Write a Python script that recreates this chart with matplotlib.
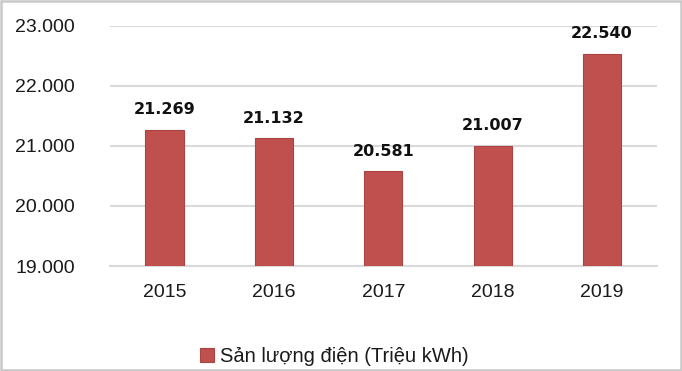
import matplotlib.pyplot as plt
from matplotlib.patches import Rectangle

years = ['2015', '2016', '2017', '2018', '2019']
values = [21269, 21132, 20581, 21007, 22540]
value_labels = ['21.269', '21.132', '20.581', '21.007', '22.540']
y_ticks = [19000, 20000, 21000, 22000, 23000]
y_tick_labels = ['19.000', '20.000', '21.000', '22.000', '23.000']
series_name = 'Sản lượng điện (Triệu kWh)'

BAR_COLOR = '#c0504d'
GRID_COLOR = '#d9d9d9'

plt.rcParams['font.family'] = ['Liberation Sans', 'DejaVu Sans']

fig = plt.figure(figsize=(6.82, 3.71), dpi=100)
ax = fig.add_axes([0.161, 0.283, 0.802, 0.647])

x = range(len(years))
bars = ax.bar(x, values, width=0.35, color=BAR_COLOR, edgecolor='#a94442',
              linewidth=0.8, zorder=3, label=series_name)

for xi, v, lab in zip(x, values, value_labels):
    ax.annotate(lab, (xi, v), xytext=(0, 9), textcoords='offset points',
                ha='center', va='bottom', fontsize=11.5, fontweight='bold',
                family='DejaVu Sans', color='#111111')

ax.set_ylim(19000, 23000)
ax.set_xlim(-0.5, len(years) - 0.5)
ax.set_yticks(y_ticks)
ax.set_yticklabels(y_tick_labels)
ax.set_xticks(list(x))
ax.set_xticklabels(years)
ax.tick_params(axis='y', length=0, pad=25, labelsize=14, labelcolor='#1a1a1a')
ax.tick_params(axis='x', length=0, pad=13, labelsize=14, labelcolor='#1a1a1a')
ax.grid(axis='y', color=GRID_COLOR, linewidth=1.5, zorder=0)
for s in ['top', 'right', 'left']:
    ax.spines[s].set_visible(False)
ax.spines['bottom'].set_color(GRID_COLOR)
ax.spines['bottom'].set_linewidth(1.5)

fig.legend(handles=[bars], labels=[series_name], loc='center',
           bbox_to_anchor=(0.49, 0.038), frameon=False, fontsize=14.5,
           handlelength=0.7, handleheight=0.7, handletextpad=0.3,
           labelcolor='#1a1a1a')

fig.patches.append(Rectangle((0.002, 0.003), 0.996, 0.994, transform=fig.transFigure,
                             fill=False, edgecolor='#c8c8c8', linewidth=1.8))

fig.savefig('out.png', dpi=100)
